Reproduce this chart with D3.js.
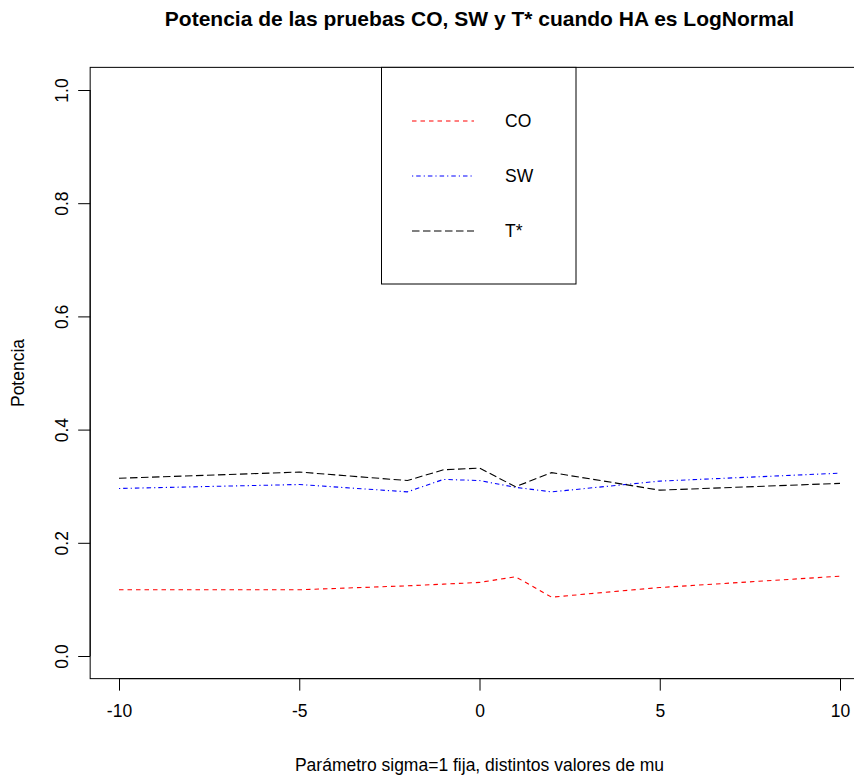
<!DOCTYPE html>
<html><head><meta charset="utf-8">
<script src="https://cdn.jsdelivr.net/npm/d3@7/dist/d3.min.js"></script>
<style>
html,body{margin:0;padding:0;background:#fff;}
text{font-family:"Liberation Sans",Arial,sans-serif;}
</style></head>
<body>
<svg id="chart" width="854" height="778"></svg>
<script>
const title = "Potencia de las pruebas CO, SW y T* cuando HA es LogNormal";
const xLabel = "Parámetro sigma=1 fija, distintos valores de mu";
const yLabel = "Potencia";
const mu = [-10, -5, -2, -1, 0, 1, 2, 5, 10];
const seriesNames = ["CO", "SW", "T*"];
const coValues = [0.117, 0.117, 0.124, 0.127, 0.130, 0.140, 0.104, 0.121, 0.141];
const swValues = [0.296, 0.303, 0.290, 0.312, 0.310, 0.298, 0.290, 0.309, 0.323];
const tValues  = [0.314, 0.325, 0.310, 0.329, 0.332, 0.299, 0.324, 0.293, 0.305];
const xTicks = [-10, -5, 0, 5, 10];
const yTicks = [0, 0.2, 0.4, 0.6, 0.8, 1.0];
const seriesColors = ["#ff0000", "#0000ff", "#000000"];
const seriesDash = ["4.5,4", "1.2,3,4.5,3", "7.5,3.5"];

const svg = d3.select("#chart");
const x = d3.scaleLinear().domain([-10, 10]).range([119, 840]);
const y = d3.scaleLinear().domain([0, 1]).range([656, 90]);
const x0 = x(-10.8), x1 = x(10.8), y0 = y(-0.04), y1 = y(1.04);

// plot box
svg.append("rect").attr("x", x0).attr("y", y1).attr("width", x1 - x0).attr("height", y0 - y1)
  .attr("fill", "none").attr("stroke", "#000").attr("stroke-width", 1);

const fs = 17.5;
// x axis
const xAxis = d3.axisBottom(x).tickValues(xTicks).tickSize(12).tickPadding(14)
  .tickFormat(d3.format("d"));
const gx = svg.append("g").attr("transform", `translate(0,${y0})`).call(xAxis);
gx.select(".domain").attr("d", `M${x(-10)},0H${x(10)}`).attr("stroke", "#000");
gx.selectAll(".tick line").attr("stroke", "#000");
gx.selectAll("text").attr("font-size", fs).attr("fill", "#000")
  .attr("font-family", "Liberation Sans, Arial, sans-serif")
  .text(d => d < 0 ? "-" + Math.abs(d) : d);

// y axis
const yAxis = d3.axisLeft(y).tickValues(yTicks).tickSize(12).tickFormat(d3.format(".1f"));
const gy = svg.append("g").attr("transform", `translate(${x0},0)`).call(yAxis);
gy.select(".domain").attr("d", `M0,${y(0)}V${y(1)}`).attr("stroke", "#000");
gy.selectAll(".tick line").attr("stroke", "#000");
gy.selectAll("text").attr("font-size", fs).attr("fill", "#000")
  .attr("font-family", "Liberation Sans, Arial, sans-serif")
  .attr("x", null).attr("dy", null)
  .attr("text-anchor", "middle")
  .attr("transform", "translate(-22,0) rotate(-90)")
  .attr("y", 0);

// lines
const data = [coValues, swValues, tValues];
const line = d3.line().x((d, i) => x(mu[i])).y(d => y(d));
data.forEach((vals, k) => {
  svg.append("path").datum(vals).attr("d", line).attr("fill", "none")
    .attr("stroke", seriesColors[k]).attr("stroke-width", 1.1)
    .attr("stroke-dasharray", seriesDash[k]);
});

// legend
const lg = svg.append("g");
lg.append("rect").attr("x", 381.5).attr("y", y1).attr("width", 194.5).attr("height", 284 - y1)
  .attr("fill", "#fff").attr("stroke", "#000").attr("stroke-width", 1);
seriesNames.forEach((nm, k) => {
  const yy = 121 + k * 55;
  lg.append("line").attr("x1", 412).attr("x2", 474).attr("y1", yy).attr("y2", yy)
    .attr("stroke", seriesColors[k]).attr("stroke-width", 1.1).attr("stroke-dasharray", seriesDash[k]);
  lg.append("text").attr("x", 505).attr("y", yy + 6).attr("font-size", fs).attr("fill", "#000").text(nm);
});

// titles
svg.append("text").attr("x", (x0 + x1) / 2).attr("y", 26).attr("text-anchor", "middle")
  .attr("font-size", 21).attr("font-weight", "bold").text(title);
svg.append("text").attr("x", (x0 + x1) / 2).attr("y", 771).attr("text-anchor", "middle")
  .attr("font-size", fs).text(xLabel);
svg.append("text").attr("transform", `translate(24,${(y0 + y1) / 2}) rotate(-90)`)
  .attr("text-anchor", "middle").attr("font-size", fs).text(yLabel);
</script>
</body></html>
